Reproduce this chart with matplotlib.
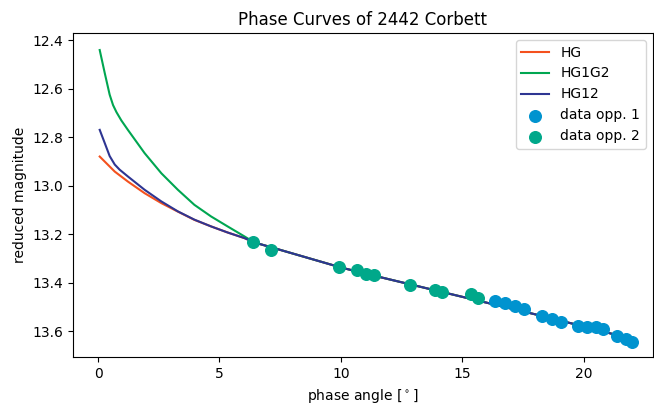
import matplotlib
matplotlib.use("Agg")
import matplotlib.pyplot as plt

# model curves (phase angle in deg, reduced mag)
alpha_tail = [6.44, 7, 8, 9, 10, 11, 12, 13, 14, 15, 16, 17, 18, 19, 20, 21, 21.98]
mag_tail = [13.234, 13.250, 13.279, 13.308, 13.337, 13.362, 13.386, 13.410, 13.434, 13.458, 13.482,
            13.506, 13.530, 13.555, 13.580, 13.606, 13.632]

alpha_hg = [0.07, 0.69, 1.23, 1.92, 2.61, 3.29, 3.97, 4.66, 5.34, 6.03] + alpha_tail
mag_hg = [12.880, 12.942, 12.983, 13.031, 13.072, 13.107, 13.141, 13.168, 13.193, 13.216] + mag_tail

alpha_hg1g2 = [0.07, 0.28, 0.48, 0.62, 0.76, 0.96, 1.23, 1.92, 2.61, 3.29, 3.97, 4.66, 5.34, 6.03] + alpha_tail
mag_hg1g2 = [12.441, 12.537, 12.625, 12.668, 12.697, 12.731, 12.770, 12.866, 12.949, 13.017, 13.079,
             13.127, 13.168, 13.209] + mag_tail

alpha_hg12 = [0.07, 0.28, 0.48, 0.69, 0.89, 1.23, 1.92, 2.61, 3.29, 3.97, 4.66, 5.34, 6.03] + alpha_tail
mag_hg12 = [12.770, 12.825, 12.878, 12.913, 12.934, 12.962, 13.017, 13.065, 13.106, 13.140, 13.168,
            13.193, 13.216] + mag_tail

# observations
alpha_opp1 = [16.35, 16.76, 17.17, 17.54, 18.28, 18.69, 19.06, 19.76, 20.13, 20.50, 20.79, 21.40, 21.73, 21.98]
mag_opp1 = [13.474, 13.482, 13.495, 13.507, 13.536, 13.548, 13.560, 13.577, 13.581, 13.581, 13.589, 13.618,
            13.630, 13.643]

alpha_opp2 = [6.40, 7.13, 9.93, 10.66, 11.03, 11.37, 12.85, 13.87, 14.17, 15.36, 15.65]
mag_opp2 = [13.234, 13.264, 13.335, 13.349, 13.362, 13.370, 13.408, 13.429, 13.439, 13.445, 13.462]

fig, ax = plt.subplots(figsize=(6.54, 4.03), dpi=100)
fig.subplots_adjust(left=0.112, right=0.998, top=0.918, bottom=0.113)

ax.plot(alpha_hg, mag_hg, color="#f4511e", lw=1.5, label="HG")
ax.plot(alpha_hg1g2, mag_hg1g2, color="#00a651", lw=1.5, label="HG1G2")
ax.plot(alpha_hg12, mag_hg12, color="#2e3592", lw=1.5, label="HG12")
ax.scatter(alpha_opp1, mag_opp1, s=70, color="#0093cf", zorder=3, label="data opp. 1")
ax.scatter(alpha_opp2, mag_opp2, s=70, color="#00a88a", zorder=3, label="data opp. 2")

ax.set_xlim(-1.02, 22.85)
ax.set_ylim(13.708, 12.371)
ax.set_xlabel(r"phase angle [$^\circ$]")
ax.set_ylabel("reduced magnitude")
ax.set_title("Phase Curves of 2442 Corbett")
ax.legend(loc="upper right")

fig.savefig("out.png", dpi=100)
